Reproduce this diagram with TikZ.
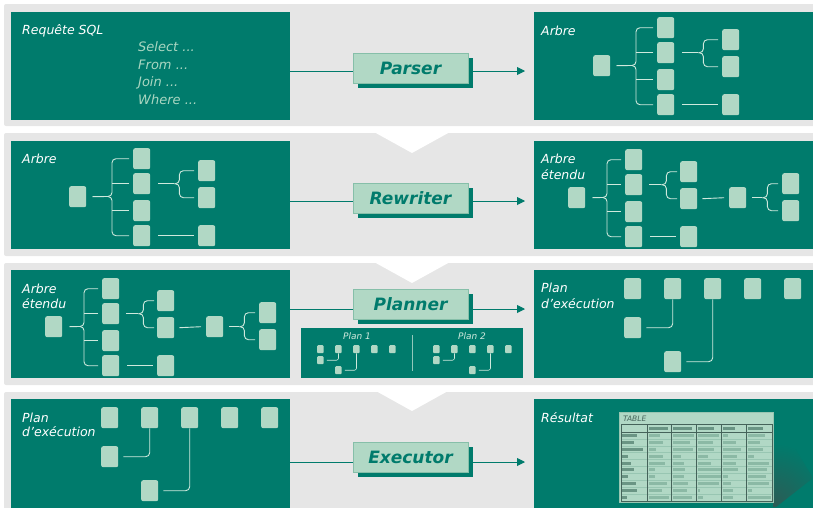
\documentclass[tikz,border=0pt]{standalone}
\usepackage{fontspec}
\setmainfont{DejaVu Sans}
\usetikzlibrary{arrows.meta,shadows}

\definecolor{teal0}{HTML}{007B6C}
\definecolor{mint}{HTML}{B1D8C5}
\definecolor{bandgray}{HTML}{E6E6E6}
\definecolor{wirecol}{HTML}{CFE9DD}
\definecolor{procedge}{HTML}{86BFA9}
\definecolor{shadowcore}{HTML}{2C5C55}
\definecolor{gridcol}{HTML}{45635A}
\definecolor{rowcol}{HTML}{98C6B2}
\definecolor{barA}{HTML}{6A9584}
\definecolor{barB}{HTML}{8BB9A5}
\definecolor{qtext}{HTML}{A9D6C1}

\tikzset{
  panel/.style={fill=teal0, draw=none, minimum width=279pt, minimum height=108pt, anchor=north west, inner sep=0pt},
  leaf/.style={fill=mint, rounded corners=2pt, minimum width=17pt, minimum height=21pt, anchor=north west, inner sep=0pt},
  minileaf/.style={fill=mint, rounded corners=1pt, minimum width=6.5pt, minimum height=8pt, anchor=north west, inner sep=0pt},
  wirepath/.style={draw=wirecol, line width=0.9pt},
  miniwire/.style={draw=wirecol, line width=0.6pt, rounded corners=2pt},
  lab/.style={text=white, anchor=base west, inner sep=0pt, font=\fontsize{12.5}{15}\selectfont\itshape},
  qline/.style={text=qtext, anchor=base west, inner sep=0pt, font=\fontsize{13}{15}\selectfont\itshape},
  minilab/.style={text=wirecol, inner sep=0pt, font=\fontsize{9}{11}\selectfont\itshape},
  procbox/.style={fill=mint, draw=procedge, line width=0.6pt, minimum width=115pt, minimum height=30pt,
    inner sep=0pt, text=teal0, font=\fontsize{17}{20}\selectfont\bfseries\itshape,
    drop shadow={shadow xshift=4.5pt, shadow yshift=-5pt, fill=teal0, opacity=1}},
  flowline/.style={draw=teal0, line width=0.9pt},
  flowarrow/.style={flowline, -{Triangle[length=8pt,width=8pt]}, shorten >=9pt},
}

% plain tree: root, four children, a fork and a single link
\newcommand\TreeA[3]{%
  \node[leaf] (#1r) at (#2,#3) {};
  \node[leaf] (#1a) at ({#2+64},{#3-38}) {};
  \node[leaf] (#1b) at ({#2+64},{#3-13}) {};
  \node[leaf] (#1c) at ({#2+64},{#3+14}) {};
  \node[leaf] (#1d) at ({#2+64},{#3+39}) {};
  \node[leaf] (#1e) at ({#2+129},{#3-26}) {};
  \node[leaf] (#1f) at ({#2+129},{#3+1}) {};
  \node[leaf] (#1g) at ({#2+129},{#3+39}) {};
  \coordinate (#1s) at ({#2+43},{#3+10.5});
  \coordinate (#1t) at ({#2+38},{#3+10.5});
  \draw[wirepath] ([xshift=6pt]#1r.east) -- (#1t);
  \draw[wirepath, rounded corners=4pt] ([xshift=-4pt]#1a.west) -| (#1s) -- (#1t);
  \draw[wirepath, rounded corners=4pt] ([xshift=-4pt]#1d.west) -| (#1s) -- (#1t);
  \draw[wirepath] ([xshift=-4pt]#1b.west) -- (#1s |- #1b.west);
  \draw[wirepath] ([xshift=-4pt]#1c.west) -- (#1s |- #1c.west);
  \coordinate (#1u) at ([xshift=29pt]#1b.east);
  \coordinate (#1v) at ([xshift=24pt]#1b.east);
  \draw[wirepath] ([xshift=8pt]#1b.east) -- (#1v);
  \draw[wirepath, rounded corners=4pt] ([xshift=-4pt]#1e.west) -| (#1u) -- (#1v);
  \draw[wirepath, rounded corners=4pt] ([xshift=-4pt]#1f.west) -| (#1u) -- (#1v);
  \draw[wirepath] ([xshift=8pt]#1d.east) -- ([xshift=-4pt]#1g.west);
}

% extended tree: the plain tree plus a node with its own fork
\newcommand\TreeB[3]{%
  \node[leaf] (#1r) at (#2,#3) {};
  \node[leaf] (#1a) at ({#2+57},{#3-38}) {};
  \node[leaf] (#1b) at ({#2+57},{#3-13}) {};
  \node[leaf] (#1c) at ({#2+57},{#3+14}) {};
  \node[leaf] (#1d) at ({#2+57},{#3+39}) {};
  \node[leaf] (#1e) at ({#2+112},{#3-26}) {};
  \node[leaf] (#1f) at ({#2+112},{#3+1}) {};
  \node[leaf] (#1g) at ({#2+112},{#3+39}) {};
  \node[leaf] (#1h) at ({#2+161},{#3}) {};
  \node[leaf] (#1i) at ({#2+214},{#3-14}) {};
  \node[leaf] (#1j) at ({#2+214},{#3+13}) {};
  \coordinate (#1s) at ({#2+39},{#3+10.5});
  \coordinate (#1t) at ({#2+34},{#3+10.5});
  \draw[wirepath] ([xshift=7pt]#1r.east) -- (#1t);
  \draw[wirepath, rounded corners=4pt] ([xshift=-4pt]#1a.west) -| (#1s) -- (#1t);
  \draw[wirepath, rounded corners=4pt] ([xshift=-4pt]#1d.west) -| (#1s) -- (#1t);
  \draw[wirepath] ([xshift=-4pt]#1b.west) -- (#1s |- #1b.west);
  \draw[wirepath] ([xshift=-4pt]#1c.west) -- (#1s |- #1c.west);
  \coordinate (#1u) at ([xshift=24pt]#1b.east);
  \coordinate (#1v) at ([xshift=19pt]#1b.east);
  \draw[wirepath] ([xshift=7pt]#1b.east) -- (#1v);
  \draw[wirepath, rounded corners=4pt] ([xshift=-3pt]#1e.west) -| (#1u) -- (#1v);
  \draw[wirepath, rounded corners=4pt] ([xshift=-3pt]#1f.west) -| (#1u) -- (#1v);
  \draw[wirepath] ([xshift=8pt]#1d.east) -- ([xshift=-4pt]#1g.west);
  \draw[wirepath] ([xshift=5pt]#1f.east) -- ([xshift=-5pt]#1h.west);
  \coordinate (#1w) at ([xshift=21pt]#1h.east);
  \coordinate (#1x) at ([xshift=16pt]#1h.east);
  \draw[wirepath] ([xshift=6pt]#1h.east) -- (#1x);
  \draw[wirepath, rounded corners=4pt] ([xshift=-4pt]#1i.west) -| (#1w) -- (#1x);
  \draw[wirepath, rounded corners=4pt] ([xshift=-4pt]#1j.west) -| (#1w) -- (#1x);
}

% execution plan: a row of five operators and two dependents
\newcommand\PlanTree[3]{%
  \foreach \k in {1,...,5} {\node[leaf] (#1p\k) at ({#2+40*(\k-1)},#3) {};}
  \node[leaf] (#1q) at (#2,{#3+39}) {};
  \node[leaf] (#1s) at ({#2+40},{#3+73}) {};
  \draw[wirepath, rounded corners=4pt] (#1p2.south) |- ([xshift=5pt]#1q.east);
  \draw[wirepath, rounded corners=4pt] (#1p3.south) |- ([xshift=5pt]#1s.east);
}

\begin{document}
\begin{tikzpicture}[x=1pt,y=-1pt]
\useasboundingbox (0,0) rectangle (813,507);

% background bands
\fill[bandgray, rounded corners=2pt] (4,4) rectangle (830,126);
\fill[bandgray, rounded corners=2pt] (4,133) rectangle (830,256);
\fill[bandgray, rounded corners=2pt] (4,263) rectangle (830,385);
\fill[bandgray, rounded corners=2pt] (4,392) rectangle (830,530);
\fill[white] (374,132) -- (450,132) -- (412,153) -- cycle;
\fill[white] (374,262) -- (450,262) -- (412,283) -- cycle;
\fill[white] (376,391) -- (448,391) -- (412,411) -- cycle;

% panels
\node[panel] (L1) at (11,12) {};
\node[panel] (R1) at (534,12) {};
\node[panel] (L2) at (11,141) {};
\node[panel] (R2) at (534,141) {};
\node[panel] (L3) at (11,270) {};
\node[panel] (R3) at (534,270) {};
\node[panel, minimum height=120pt] (L4) at (11,399) {};
\node[panel, minimum height=120pt] (R4) at (534,399) {};

% ---- stage 1: parser
\node[lab] (t1) at (22,34) {Requête SQL};
\node[qline] (q1) at (138,51.5) {Select ...};
\node[qline] (q2) at (138,69) {From ...};
\node[qline] (q3) at (138,86.5) {Join ...};
\node[qline] (q4) at (138,104) {Where ...};
\coordinate (y1) at (0,71);
\node[procbox] (parser) at (410.5,68) {Parser};
\draw[flowline] (L1.east |- y1) -- (parser.west |- y1);
\draw[flowarrow] ([xshift=4.5pt]parser.east |- y1) -- (R1.west |- y1);
\node[lab] (t2) at (541,35) {Arbre};
\TreeA{ta}{593}{55}

% ---- stage 2: rewriter
\node[lab] (t3) at (22,163) {Arbre};
\TreeA{tb}{69}{186}
\coordinate (y2) at (0,201);
\node[procbox] (rewriter) at (410.5,198) {Rewriter};
\draw[flowline] (L2.east |- y2) -- (rewriter.west |- y2);
\draw[flowarrow] ([xshift=4.5pt]rewriter.east |- y2) -- (R2.west |- y2);
\node[lab] (t4) at (541,163) {Arbre};
\node[lab] (t5) at (541,179) {étendu};
\TreeB{tc}{568}{187}

% ---- stage 3: planner
\node[lab] (t6) at (22,293) {Arbre};
\node[lab] (t7) at (22,308) {étendu};
\TreeB{td}{45}{316}
\coordinate (y3) at (0,309);
\node[procbox] (planner) at (410.5,304) {Planner};
\draw[flowline] (L3.east |- y3) -- (planner.west |- y3);
\draw[flowarrow] ([xshift=4.5pt]planner.east |- y3) -- (R3.west |- y3);

\node[fill=teal0, draw=none, anchor=north west, minimum width=222pt, minimum height=50pt, inner sep=0pt] (plans) at (301,328) {};
\draw[draw=wirecol!70!teal0, line width=0.8pt] (412,335) -- (412,371);
\node[minilab] (pl1) at (357,336) {Plan 1};
\node[minilab] (pl2) at (472,336) {Plan 2};
\foreach \k in {1,...,5} {\node[minileaf] (ma\k) at ({317+18*(\k-1)},345) {};}
\node[minileaf] (maq) at (317,356) {};
\node[minileaf] (mas) at (335,366) {};
\draw[miniwire] (ma2.south) |- ([xshift=3pt]maq.east);
\draw[miniwire] (ma3.south) |- ([xshift=3pt]mas.east);
\foreach \k in {1,...,5} {\node[minileaf] (mb\k) at ({433+18*(\k-1)},345) {};}
\node[minileaf] (mbq) at (433,356) {};
\node[minileaf] (mbs) at (469,366) {};
\draw[miniwire] (mb2.south) |- ([xshift=3pt]mbq.east);
\draw[miniwire] (mb4.south) |- ([xshift=3pt]mbs.east);

\node[lab] (t8) at (541,292) {Plan};
\node[lab] (t9) at (541,308) {d’exécution};
\PlanTree{pe}{624}{278}

% ---- stage 4: executor
\node[lab] (t10) at (22,422) {Plan};
\node[lab] (t11) at (22,436) {d’exécution};
\PlanTree{pf}{101}{407}
\coordinate (y4) at (0,462);
\node[procbox] (executor) at (410.5,457) {Executor};
\draw[flowline] (L4.east |- y4) -- (executor.west |- y4);
\draw[flowarrow] ([xshift=4.5pt]executor.east |- y4) -- (R4.west |- y4);
\node[lab] (t12) at (541,422) {Résultat};

% result table with its cast shadow, darkest at the table's lower corner
\begin{scope}
  \clip (773,412) -- (813,478) -- (776,507) -- (773,507) -- cycle;
  \shade[inner color=shadowcore, outer color=teal0] (773,505) circle (62);
\end{scope}
\node[fill=mint, draw=rowcol, line width=0.5pt, anchor=north west, minimum width=154pt, minimum height=90pt, inner sep=0pt] (tbl) at (619,412) {};
\node[anchor=base west, inner sep=0pt, text=gridcol, font=\fontsize{7.5}{9}\selectfont\itshape] (tblname) at (623,421) {TABLE};
\foreach \r in {1,...,9} {\draw[rowcol, line width=0.5pt] (621,{432+6.9*\r}) -- (772,{432+6.9*\r});}
\foreach \cx/\w in {649/19, 673/19, 698/16, 723/12, 748/15} {\fill[barA] (\cx,426.5) rectangle ++(\w,3);}
\foreach \r/\wa/\wb/\wc/\wd/\we/\wf in {1/15/11/21/21/5/17, 2/12/14/17/15/13/12, 3/21/7/20/16/18/15,
    4/6/14/8/10/14/6, 5/9/16/11/13/13/21, 6/12/6/12/23/15/19, 7/6/6/11/23/5/18,
    8/14/18/15/21/8/21, 9/15/13/14/2/10/4, 10/5/20/19/5/10/23} {
  \pgfmathsetmacro\yc{432+(\r-0.5)*6.9-1.5}
  \fill[barA] (622,\yc) rectangle ++(\wa,3);
  \fill[barB] (649,\yc) rectangle ++(\wb,3);
  \fill[barB] (673,\yc) rectangle ++(\wc,3);
  \fill[barB] (698,\yc) rectangle ++(\wd,3);
  \fill[barB] (723,\yc) rectangle ++(\we,3);
  \fill[barB] (748,\yc) rectangle ++(\wf,3);
}
\draw[gridcol, line width=0.7pt] (621,424) rectangle (772,501);
\draw[gridcol, line width=0.6pt] (621,432) -- (772,432);
\draw[gridcol, line width=0.8pt] (647,424) -- (647,501);
\foreach \cx in {671,696,721,746} {\draw[gridcol, line width=0.5pt] (\cx,424) -- (\cx,501);}
\end{tikzpicture}
\end{document}
